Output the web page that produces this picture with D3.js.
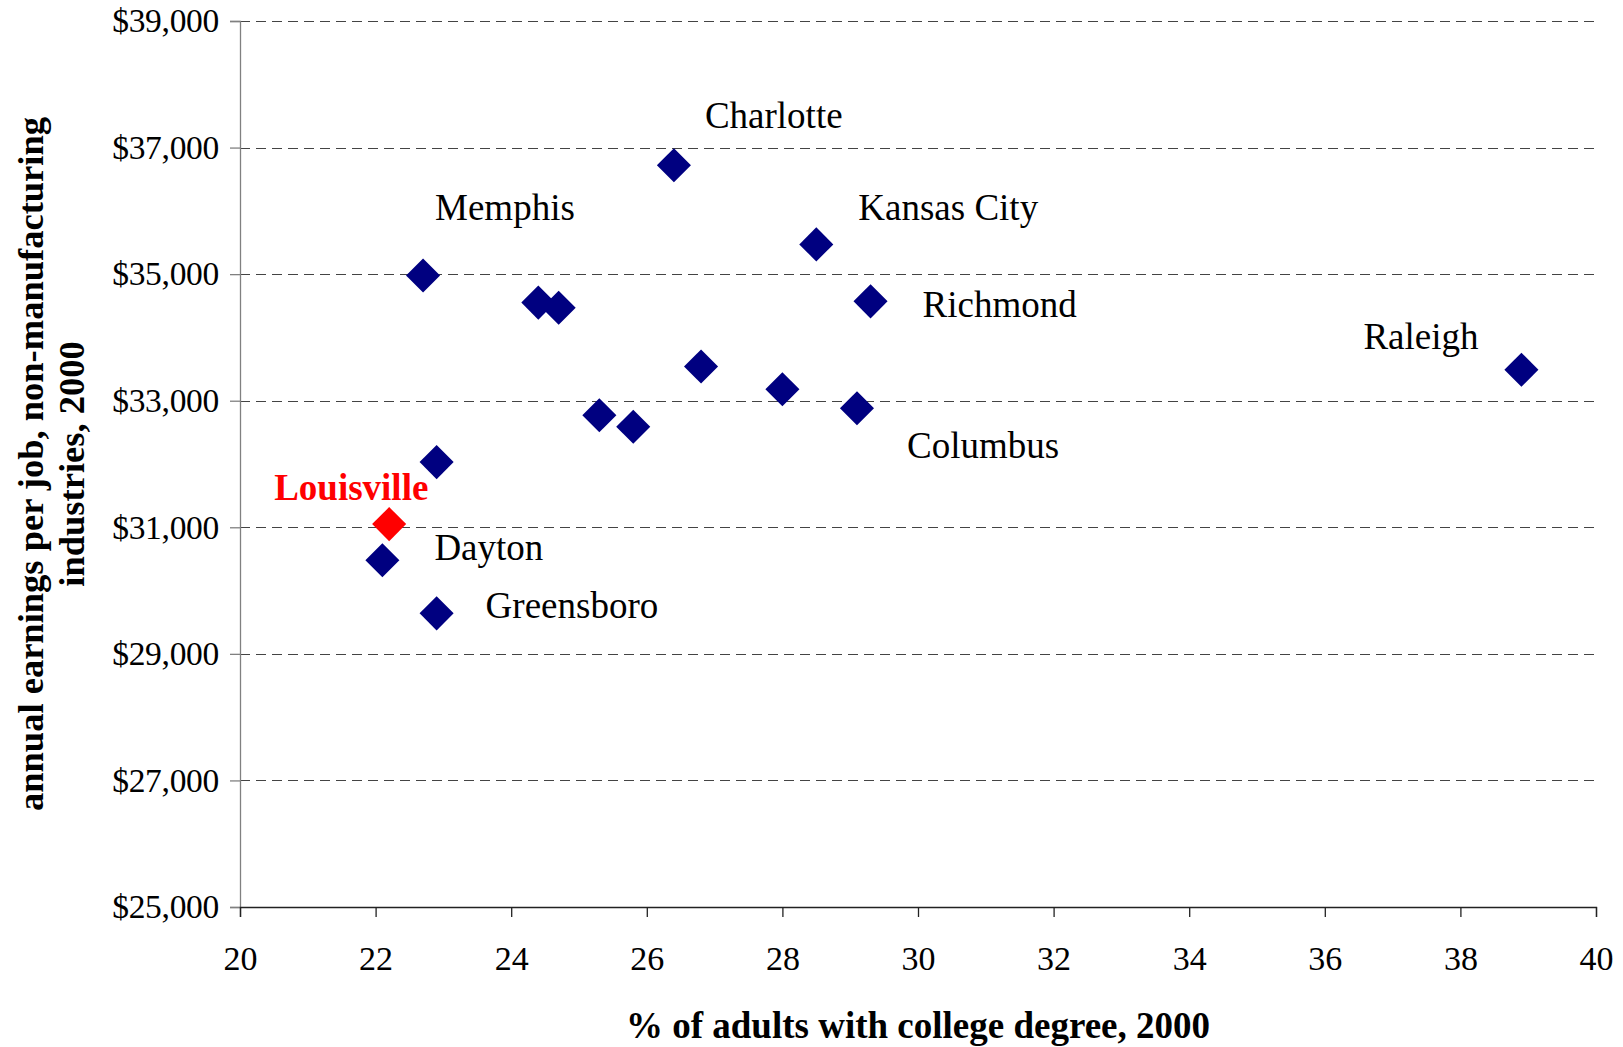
<!DOCTYPE html>
<html>
<head>
<meta charset="utf-8">
<script src="https://cdn.jsdelivr.net/npm/d3@7"></script>
<style>
  html, body { margin: 0; padding: 0; background: #fff; }
  svg { display: block; font-family: "Liberation Serif", "Times New Roman", serif; }
</style>
</head>
<body>
<svg id="chart" width="1623" height="1047"></svg>
<script>
// ---- data ----
const cities = ["Charlotte", "Memphis", "", "", "Kansas City", "Richmond", "", "", "Columbus", "", "", "", "Raleigh", "Louisville", "Dayton", "Greensboro"];
const collegePct = [26.4, 22.7, 24.4, 24.7, 28.5, 29.3, 26.8, 28.0, 29.1, 25.3, 25.8, 22.9, 38.9, 22.2, 22.1, 22.9];
const earnings = [36720, 34980, 34550, 34470, 35470, 34570, 33540, 33180, 32880, 32770, 32590, 32030, 33490, 31050, 30480, 29640];
const highlight = "Louisville";
const xTicks = [20, 22, 24, 26, 28, 30, 32, 34, 36, 38, 40];
const yTicks = [25000, 27000, 29000, 31000, 33000, 35000, 37000, 39000];
const xTitle = "% of adults with college degree, 2000";
const yTitleLines = ["annual earnings per job, non-manufacturing", "industries, 2000"];

// label offsets (pixels, relative to the marker)
const labelOffsets = {
  "Charlotte": [31, -50], "Memphis": [12, -68], "Kansas City": [42, -37],
  "Richmond": [52, 3], "Raleigh": [-158, -34], "Columbus": [50, 37],
  "Louisville": [-115, -37], "Dayton": [52, -13], "Greensboro": [49, -8]
};

const W = 1623, H = 1047;
const m = { left: 240, top: 21, right: 27, bottom: 140 };
const svg = d3.select("#chart");
svg.append("rect").attr("width", W).attr("height", H).attr("fill", "#fff");

const x = d3.scaleLinear().domain([20, 40]).range([m.left, W - m.right]);
const y = d3.scaleLinear().domain([25000, 39000]).range([H - m.bottom, m.top]);

// gridlines
svg.append("g").selectAll("line")
  .data(yTicks.filter(v => v !== 25000))
  .join("line")
  .attr("x1", x(20)).attr("x2", x(40))
  .attr("y1", d => Math.round(y(d)) + 0.5).attr("y2", d => Math.round(y(d)) + 0.5)
  .attr("stroke", "#444").attr("stroke-width", 1)
  .attr("stroke-dasharray", "10,6");

// y axis
const yAxis = svg.append("g")
  .attr("transform", `translate(${x(20)},0)`)
  .call(d3.axisLeft(y).tickValues(yTicks).tickSize(10).tickPadding(11)
    .tickFormat(d => "$" + d3.format(",")(d)));
yAxis.select(".domain").attr("stroke", "#808080").attr("stroke-width", 1.3);
yAxis.selectAll(".tick line").attr("stroke", "#808080").attr("stroke-width", 1.3);
yAxis.selectAll("text").attr("font-size", 33.5).attr("fill", "#000")
  .attr("font-family", "Liberation Serif, Times New Roman, serif").attr("letter-spacing", -0.3);

// x axis
const xAxis = svg.append("g")
  .attr("transform", `translate(0,${y(25000)})`)
  .call(d3.axisBottom(x).tickValues(xTicks).tickSize(10).tickPadding(29));
xAxis.select(".domain").attr("stroke", "#222").attr("stroke-width", 1.3);
xAxis.selectAll(".tick line").attr("stroke", "#222").attr("stroke-width", 1.3);
xAxis.selectAll("text").attr("font-size", 34).attr("fill", "#000")
  .attr("font-family", "Liberation Serif, Times New Roman, serif");

// axis titles
svg.append("text")
  .attr("x", (x(20) + x(40)) / 2).attr("y", 1025).attr("dy", "0.35em")
  .attr("text-anchor", "middle").attr("font-weight", "bold").attr("font-size", 37)
  .text(xTitle);

const yt = svg.append("text")
  .attr("transform", `translate(30,${(y(25000) + y(39000)) / 2}) rotate(-90)`)
  .attr("text-anchor", "middle").attr("font-weight", "bold").attr("font-size", 36.5);
yTitleLines.forEach((t, i) => {
  yt.append("tspan").attr("x", 0).attr("y", i * 41).attr("dy", "0.35em").text(t);
});

// points
const pts = cities.map((c, i) => ({ city: c, xv: collegePct[i], yv: earnings[i] }));
const diamond = d3.symbol().type(d3.symbolSquare).size(580);
svg.append("g").selectAll("path")
  .data(pts)
  .join("path")
  .attr("d", diamond)
  .attr("transform", d => `translate(${x(d.xv)},${y(d.yv)}) rotate(45)`)
  .attr("fill", d => d.city === highlight ? "#ff0000" : "#000080");

// labels
svg.append("g").selectAll("text")
  .data(pts.filter(d => d.city))
  .join("text")
  .attr("x", d => x(d.xv) + labelOffsets[d.city][0])
  .attr("y", d => y(d.yv) + labelOffsets[d.city][1])
  .attr("dy", "0.35em")
  .attr("font-size", 37)
  .attr("font-weight", d => d.city === highlight ? "bold" : "normal")
  .attr("fill", d => d.city === highlight ? "#ff0000" : "#000")
  .text(d => d.city);
</script>
</body>
</html>
